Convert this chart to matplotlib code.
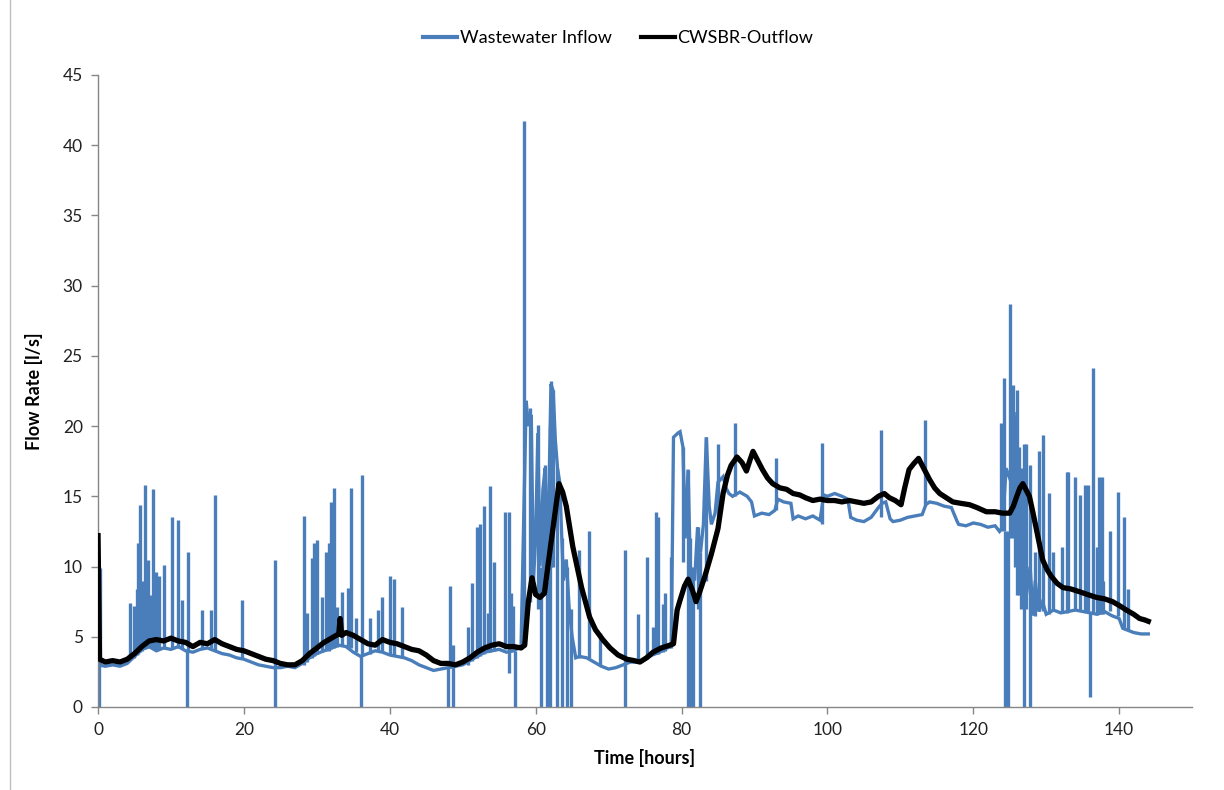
import numpy as np
import matplotlib
matplotlib.use("Agg")
import matplotlib.pyplot as plt
from matplotlib.lines import Line2D

plt.rcParams['font.family'] = ['Lato', 'DejaVu Sans']

# Wastewater inflow: slow base signal (hours, l/s)
inflow_t = [0, 1, 2, 3, 4, 5, 6, 7, 8, 9, 10, 11, 12, 13, 14, 15, 16, 17, 18, 19,
            20, 21, 22, 23, 24, 25, 26, 27, 28, 29, 30, 31, 32, 33, 34, 35, 36, 37, 38, 39,
            40, 41, 42, 43, 44, 45, 46, 47, 48, 49, 50, 51, 52, 53, 54, 55, 56, 57, 58,
            58.7, 59.0, 59.4, 59.7, 60.0, 60.3, 60.6, 61.0, 61.3, 61.6, 62.1, 62.4, 62.7,
            63.0, 63.3, 63.8, 64.2, 64.6, 65.0, 65.5, 66, 67, 68, 69, 70, 71, 72, 73, 74,
            75, 76, 77, 78, 78.6, 78.9, 79.5, 79.8, 80.2, 80.5, 80.9, 81.2, 81.8, 82.2,
            82.6, 83.0, 83.4, 83.8, 84.1, 84.6, 85.0, 85.7, 86.1, 86.5, 87, 88, 89, 89.6,
            90, 91, 92, 92.8, 93.2, 94, 95, 95.3, 96, 97, 98, 99, 99.5, 100, 101, 102,
            102.8, 103.2, 104, 105, 106, 107, 107.5, 108, 108.6, 109, 110, 111, 112, 113,
            113.5, 114, 115, 116, 117, 117.8, 118, 119, 120, 121, 122, 123, 123.6, 124.0,
            124.5, 125.2, 125.6, 126.2, 126.8, 127.3, 127.8, 128.2, 128.5, 129, 129.5, 130,
            131, 132, 133, 134, 135, 136, 137, 138, 139, 140, 140.5, 141, 142, 143, 144]
inflow_v = [3.0, 2.9, 3.0, 2.9, 3.1, 3.6, 4.1, 4.3, 4.0, 4.2, 4.1, 4.3, 4.0, 3.9, 4.1, 4.2, 4.0, 3.8, 3.7, 3.5,
            3.4, 3.2, 3.0, 2.9, 2.8, 2.8, 2.9, 2.8, 3.1, 3.5, 3.8, 4.0, 4.2, 4.4, 4.3, 3.9, 3.6, 3.8, 4.0, 3.9,
            3.7, 3.6, 3.5, 3.3, 3.0, 2.8, 2.6, 2.7, 2.8, 2.9, 3.0, 3.3, 3.6, 3.9, 4.0, 4.1, 3.9, 4.0, 4.3,
            21.8, 20.0, 20.8, 9.0, 12.0, 19.5, 10.0, 15.5, 17.0, 9.0, 23.0, 22.5, 19.0,
            17.0, 16.0, 9.0, 10.5, 7.0, 5.0, 3.5, 3.6, 3.5, 3.2, 2.9, 2.7, 2.8, 3.0, 3.2, 3.2,
            3.4, 3.7, 3.9, 4.2, 4.3, 19.2, 19.5, 19.6, 18.5, 12.0, 16.9, 10.0, 9.0, 12.8,
            11.0, 13.0, 19.2, 14.3, 13.0, 13.8, 16.0, 16.4, 15.6, 15.2, 15.0, 15.3, 15.0, 14.6,
            13.6, 13.8, 13.7, 14.0, 14.8, 14.6, 14.5, 13.4, 13.6, 13.4, 13.6, 13.3, 15.1, 15.0, 15.2, 15.0,
            14.8, 13.5, 13.3, 13.2, 13.5, 14.2, 14.5, 14.6, 13.4, 13.2, 13.3, 13.5, 13.6, 13.7,
            14.4, 14.6, 14.5, 14.3, 14.2, 13.2, 13.0, 12.9, 13.1, 13.0, 12.8, 12.9, 12.5, 12.8,
            17.0, 16.0, 21.0, 12.0, 9.5, 8.0, 10.0, 6.5, 9.0, 6.8, 7.5, 6.6,
            6.9, 6.7, 6.8, 6.9, 6.8, 6.7, 6.6, 6.8, 6.5, 6.3, 5.6, 5.5, 5.3, 5.2, 5.2]

# Single-sample spikes and drop-outs of the inflow: time, from, to
spike_t = [0.1, 0.3, 4.4, 4.9, 5.3, 5.5, 5.8, 6.0, 6.4, 6.8, 7.1, 7.6, 8.0, 8.3, 9.1, 10.2, 10.9,
           11.5, 12.2, 12.3, 14.3, 15.5, 16.1, 19.8, 24.2, 24.3, 28.2, 28.6, 29.3, 29.6, 30.0,
           30.7, 31.2, 31.6, 31.9, 32.4, 32.8, 33.4, 34.3, 34.7, 35.4, 36.0, 36.2, 37.3, 38.4,
           38.9, 40.0, 40.6, 41.7, 48.0, 48.2, 48.7, 50.7, 51.3, 51.9, 52.4, 52.9, 53.4, 53.8,
           54.3, 55.8, 56.3, 56.6, 56.9, 57.2, 58.4, 59.2, 60.3, 60.8, 61.0, 61.3, 61.5, 62.0,
           62.1, 62.4, 62.9, 63.6, 64.3, 64.8, 65.9, 67.3, 68.8, 72.2, 74.0, 75.2, 76.1, 76.5,
           76.8, 77.4, 77.8, 78.5, 80.2, 80.9, 81.1, 81.6, 82.2, 82.5, 83.4, 85.0, 87.3, 93.0,
           99.2, 107.3, 113.4, 123.8, 124.2, 124.4, 124.7, 125.0, 125.4, 125.7, 126.0, 126.3,
           126.6, 126.9, 127.3, 127.8, 128.4, 129.0, 129.6, 130.4, 131.0, 132.1, 132.8, 133.0,
           133.9, 134.6, 135.3, 135.7, 136.0, 136.4, 137.0, 137.2, 137.6, 137.8, 138.7, 139.8,
           140.7, 141.2]
spike_lo = [0, 3.0, 3.4, 3.5, 3.7, 3.8, 3.9, 4.0, 4.1, 4.2, 4.3, 4.2, 4.0, 4.1, 4.2, 4.1, 4.2,
            4.2, 0, 4.0, 4.1, 4.2, 4.0, 3.5, 0, 2.8, 3.0, 3.2, 3.5, 3.6, 3.8,
            3.9, 4.0, 4.0, 4.1, 4.2, 4.3, 4.4, 4.3, 4.2, 3.9, 0, 3.6, 3.8, 4.0,
            3.9, 3.7, 3.6, 3.5, 0, 2.8, 0, 3.0, 3.3, 3.5, 3.6, 3.8, 3.9, 3.9,
            4.0, 4.1, 2.4, 4.0, 4.0, 0, 4.3, 7.5, 7.0, 0, 8.0, 8.0, 0, 0,
            10.0, 10.0, 0, 0, 0, 0, 3.5, 3.5, 3.0, 0, 3.2, 3.4, 3.7, 3.8,
            3.8, 3.9, 4.0, 4.2, 10.3, 0, 0, 0, 7.0, 0, 9.0, 13.0, 15.0, 14.0,
            13.0, 13.5, 14.4, 12.5, 12.5, 0, 0, 12.0, 12.0, 10.0, 8.0, 8.0,
            7.0, 0, 7.0, 0, 6.5, 6.8, 6.8, 6.6, 6.8, 6.7, 6.7, 6.8,
            6.9, 6.8, 6.8, 6.8, 0.7, 6.7, 6.6, 6.6, 6.6, 6.6, 6.8, 6.5,
            5.6, 5.5]
spike_hi = [3.0, 9.9, 7.4, 7.2, 8.4, 11.7, 14.4, 9.0, 15.8, 10.5, 8.0, 15.5, 9.6, 9.3, 10.1, 13.5, 13.3,
            7.6, 4.0, 11.0, 6.9, 6.9, 15.1, 7.6, 2.8, 10.5, 13.6, 6.7, 10.6, 11.7, 11.9,
            7.8, 11.0, 11.7, 14.6, 15.6, 7.1, 8.2, 8.5, 15.6, 6.3, 3.6, 16.5, 6.3, 6.9,
            7.8, 9.3, 9.1, 7.1, 2.8, 8.6, 4.4, 5.7, 8.8, 12.8, 13.0, 14.3, 6.7, 15.7,
            10.3, 13.9, 13.9, 8.1, 7.2, 4.0, 41.7, 21.3, 20.1, 10.0, 15.5, 17.2, 9.0, 20.0,
            23.2, 22.6, 17.0, 12.0, 10.0, 7.0, 11.2, 12.5, 5.3, 11.2, 6.6, 10.7, 5.7, 13.9,
            13.5, 7.3, 8.1, 10.7, 18.5, 16.9, 12.0, 10.0, 12.8, 11.0, 19.2, 18.7, 20.2, 17.7,
            18.8, 19.7, 20.4, 20.2, 23.4, 12.5, 12.5, 28.7, 22.9, 20.0, 22.6, 18.5,
            17.0, 18.7, 18.7, 17.2, 11.0, 18.2, 19.4, 15.2, 11.0, 11.4, 16.7, 16.7,
            16.4, 15.1, 15.8, 15.8, 6.7, 24.1, 11.4, 16.4, 16.4, 9.0, 12.5, 15.3,
            13.5, 8.4]

# CWSBR outflow (hours, l/s)
outflow_t = [0, 0.2, 1, 2, 3, 4, 5, 6, 7, 8, 9, 10, 11, 12, 13, 14, 15, 16, 17, 18, 19,
             20, 21, 22, 23, 24, 25, 26, 27, 28, 29, 30, 31, 32, 33, 33.2, 33.4, 34, 35, 36,
             37, 38, 39, 40, 41, 42, 43, 44, 45, 46, 47, 48, 49, 50, 51, 52, 53, 54, 55, 56,
             57, 58, 58.5, 59, 59.5, 60, 60.6, 61.2, 61.8, 62.4, 63.2, 63.7, 64.2, 65.1, 66.3,
             67.4, 68.2, 69.2, 70.2, 71.3, 72.5, 73.5, 74.3, 75.2, 76.1, 77.2, 78.4, 78.9,
             79.4, 79.8, 80.4, 80.9, 81.5, 82.0, 82.5, 83.2, 84.1, 85.0, 85.7, 86.3, 86.8,
             87.6, 88.3, 88.9, 89.4, 89.8, 90.4, 91.1, 91.8, 92.5, 93.5, 94.4, 95.3, 96.2,
             97, 98, 99, 100, 101, 102, 103, 104, 105, 106, 107, 107.8, 108.5, 109.3, 110.1,
             110.6, 111.2, 111.8, 112.5, 113.2, 114.0, 114.7, 115.4, 116.3, 117.2, 118.3,
             119.5, 120.5, 121.8, 123, 124, 125, 125.5, 125.9, 126.4, 126.8, 127.2, 127.7,
             128.2, 128.6, 129.1, 129.5, 130.1, 130.7, 131.5, 132.3, 133.4, 134.6, 135.7,
             136.9, 138.0, 139.1, 140.1, 141, 142, 142.8, 143.5, 144]
outflow_v = [12.2, 3.4, 3.2, 3.3, 3.2, 3.4, 3.8, 4.3, 4.7, 4.8, 4.7, 4.9, 4.7, 4.6, 4.3, 4.6, 4.5, 4.8, 4.5, 4.3, 4.1,
             4.0, 3.8, 3.6, 3.4, 3.3, 3.1, 3.0, 3.0, 3.3, 3.8, 4.2, 4.6, 4.9, 5.2, 6.3, 5.1, 5.3, 5.1, 4.8,
             4.5, 4.4, 4.8, 4.6, 4.5, 4.3, 4.1, 4.0, 3.7, 3.3, 3.1, 3.1, 3.0, 3.2, 3.5, 3.9, 4.2, 4.4, 4.5, 4.3,
             4.3, 4.2, 4.4, 7.5, 9.2, 8.0, 7.8, 8.1, 10.5, 12.8, 15.9, 15.3, 14.3, 11.4, 8.5,
             6.4, 5.5, 4.8, 4.2, 3.7, 3.4, 3.3, 3.2, 3.5, 3.9, 4.2, 4.4, 4.5,
             6.9, 7.6, 8.6, 9.1, 8.3, 7.5, 8.2, 9.3, 10.9, 12.7, 15.2, 16.5, 17.2,
             17.8, 17.4, 16.8, 17.6, 18.2, 17.6, 16.9, 16.3, 15.9, 15.6, 15.5, 15.2, 15.1,
             14.9, 14.7, 14.8, 14.7, 14.7, 14.6, 14.7, 14.6, 14.5, 14.6, 15.0, 15.2, 14.9, 14.7, 14.4,
             15.6, 16.9, 17.3, 17.7, 17.0, 16.2, 15.6, 15.2, 14.9, 14.6, 14.5,
             14.4, 14.2, 13.9, 13.9, 13.8, 13.8, 14.3, 14.9, 15.6, 15.9, 15.5, 15.0,
             13.8, 12.8, 11.5, 10.5, 9.8, 9.3, 8.8, 8.5, 8.4, 8.2, 8.0,
             7.8, 7.7, 7.5, 7.2, 6.9, 6.6, 6.3, 6.2, 6.1]

blue = '#4a7ebb'
axis_grey = '#868686'

fig = plt.figure(figsize=(12.24, 7.90), dpi=100)
ax = fig.add_axes([0.0801, 0.1051, 0.8938, 0.8000])

ax.plot(inflow_t, inflow_v, color=blue, lw=2.4, solid_joinstyle='miter',
        label='Wastewater Inflow', zorder=2)
ax.vlines(spike_t, spike_lo, spike_hi, color=blue, lw=2.4, zorder=2)
ax.plot(outflow_t, outflow_v, color='black', lw=3.8, label='CWSBR-Outflow', zorder=3)

ax.set_xlim(0, 150)
ax.set_ylim(0, 45)
ax.set_xticks(np.arange(0, 141, 20))
ax.set_yticks(np.arange(0, 46, 5))

for side in ['top', 'right']:
    ax.spines[side].set_visible(False)
for side in ['left', 'bottom']:
    ax.spines[side].set_color(axis_grey)
    ax.spines[side].set_linewidth(1.0)
ax.tick_params(axis='both', direction='out', length=5, width=1.0, color=axis_grey,
               labelsize=12.5, labelcolor='#222222', pad=6)

ax.set_xlabel('Time [hours]', fontsize=13, fontweight='bold', labelpad=8)
ax.set_ylabel('Flow Rate [l/s]', fontsize=13, fontweight='bold', labelpad=14)

fig.legend(handles=[Line2D([], [], color=blue, lw=3),
                    Line2D([], [], color='black', lw=3)],
           labels=['Wastewater Inflow', 'CWSBR-Outflow'],
           loc='center', bbox_to_anchor=(0.505, 0.952), ncol=2, frameon=False,
           fontsize=13, handlelength=1.9, handletextpad=0.15, columnspacing=1.6)

# thin frame edge visible on the left of the original chart
fig.add_artist(Line2D([10 / 1224, 10 / 1224], [0, 1], color='#bfbfbf', lw=1.0))

fig.savefig('out.png', dpi=100)
